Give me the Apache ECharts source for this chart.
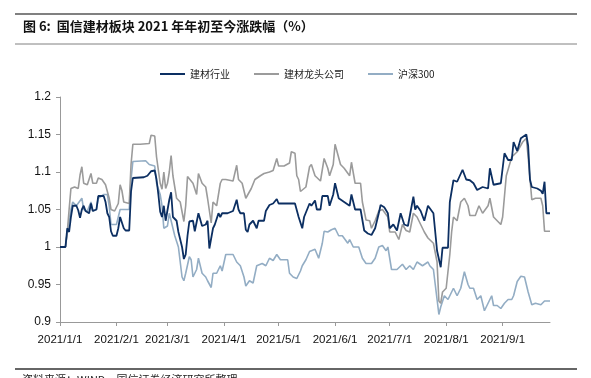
<!DOCTYPE html>
<html><head><meta charset="utf-8">
<script src="https://cdn.jsdelivr.net/npm/echarts@6/dist/echarts.min.js"></script>
<style>html,body{margin:0;padding:0;background:#fff;}#c{width:591px;height:378px;}</style>
</head><body><div id="c"></div>
<script>
const titleText = '图 6:  国信建材板块 2021 年年初至今涨跌幅（%）';
const sourceText = '资料来源：WIND，国信证券经济研究所整理';
const seriesNames = ['建材行业', '建材龙头公司', '沪深300'];
const xTickLabels = ['2021-01-01','2021-02-01','2021-03-01','2021-04-01','2021-05-01','2021-06-01','2021-07-01','2021-08-01','2021-09-01'];
const xRange = ['2021-01-01', '2021-09-27'];

const industryDates = ['01-01','01-04','01-05','01-06','01-07','01-08','01-10','01-11','01-12','01-13','01-14','01-15','01-17','01-18','01-19','01-21','01-22','01-25','01-26','01-27','01-28','01-29','01-30',
'02-01','02-02','02-03','02-04','02-05','02-06','02-08','02-09','02-10','02-16','02-18','02-20','02-22','02-23','02-24','02-25','02-26','02-27','02-28',
'03-01','03-02','03-03','03-04','03-06','03-07','03-09','03-10','03-11','03-12','03-13','03-15','03-16','03-18','03-19','03-20','03-22','03-23','03-24','03-25','03-26','03-27','03-29','03-30','03-31',
'04-03','04-06','04-08','04-09','04-10','04-12','04-13','04-14','04-15','04-17','04-19','04-20','04-23','04-24','04-26','04-28','04-30',
'05-01','05-04','05-10','05-12','05-14','05-15','05-18','05-19','05-21','05-22','05-24','05-25','05-28','05-29','05-31',
'06-01','06-03','06-06','06-09','06-10','06-12','06-15','06-17','06-19','06-21','06-23','06-25','06-26','06-28','06-30',
'07-01','07-03','07-05','07-07','07-09','07-11','07-12','07-14','07-15','07-16','07-18','07-20','07-22','07-23','07-25','07-27','07-29','07-30',
'08-02','08-03','08-05','08-07','08-10','08-12','08-14','08-16','08-18','08-19','08-21','08-24','08-25','08-27','08-31',
'09-02','09-04','09-06','09-07','09-09','09-11','09-14','09-15','09-16','09-17','09-20','09-22','09-23','09-24','09-25','09-27'];
const industryValues = [1.000,1.000,1.025,1.020,1.040,1.055,1.055,1.049,1.039,1.050,1.055,1.048,1.045,1.058,1.048,1.050,1.068,1.068,1.060,1.045,1.040,1.021,1.015,
1.015,1.025,1.040,1.040,1.025,1.022,1.022,1.074,1.092,1.093,1.095,1.101,1.102,1.090,1.070,1.047,1.040,1.055,1.035,
1.035,1.063,1.073,1.040,1.035,1.020,1.000,0.984,0.990,1.015,1.034,1.035,1.021,1.045,1.045,1.028,1.030,1.035,0.998,1.000,1.025,1.030,1.045,1.040,1.045,
1.045,1.048,1.063,1.050,1.045,1.045,1.023,1.020,1.030,1.035,1.025,1.035,1.035,1.048,1.056,1.058,1.064,
1.058,1.058,1.058,1.040,1.025,1.040,1.058,1.055,1.062,1.050,1.050,1.068,1.068,1.055,1.070,
1.085,1.065,1.060,1.055,1.070,1.050,1.050,1.022,1.018,1.016,1.025,1.045,1.056,1.053,1.045,
1.025,1.030,1.022,1.045,1.030,1.028,1.030,1.067,1.050,1.055,1.048,1.035,1.055,1.055,1.045,0.995,0.973,0.999,
0.999,1.060,1.089,1.087,1.103,1.090,1.089,1.085,1.076,1.075,1.080,1.078,1.105,1.083,1.085,
1.125,1.116,1.116,1.140,1.128,1.145,1.150,1.135,1.090,1.080,1.078,1.075,1.071,1.087,1.045,1.045];

const leaderDates = ['01-01','01-04','01-05','01-06','01-07','01-09','01-11','01-12','01-13','01-14','01-16','01-18','01-19','01-21','01-22','01-24','01-26','01-28','01-29','01-31',
'02-02','02-03','02-04','02-05','02-06','02-08','02-09','02-10','02-14','02-19','02-20','02-22','02-23','02-25','02-26','02-27','02-28',
'03-01','03-02','03-03','03-04','03-06','03-08','03-10','03-11','03-12','03-15','03-17','03-18','03-20','03-22','03-23','03-25','03-26','03-28','03-30','03-31',
'04-02','04-06','04-08','04-09','04-11','04-13','04-14','04-16','04-18','04-21','04-23','04-26','04-28','04-30',
'05-01','05-04','05-07','05-08','05-10','05-11','05-12','05-13','05-14','05-16','05-18','05-19','05-21','05-24','05-26','05-28','05-29','05-31',
'06-01','06-04','06-06','06-09','06-10','06-12','06-15','06-16','06-18','06-20','06-21','06-23','06-25','06-27','06-30',
'07-01','07-04','07-06','07-08','07-10','07-12','07-14','07-16','07-18','07-20','07-22','07-23','07-25','07-27','07-28','07-29','07-30',
'08-01','08-03','08-04','08-05','08-07','08-09','08-11','08-13','08-14','08-17','08-19','08-21','08-24','08-25','08-27','08-29','08-31',
'09-01','09-03','09-06','09-09','09-12','09-14','09-15','09-17','09-19','09-22','09-23','09-24','09-27'];
const leaderValues = [1.000,1.000,1.020,1.050,1.078,1.080,1.078,1.096,1.107,1.085,1.083,1.098,1.085,1.085,1.092,1.090,1.083,1.065,1.050,1.048,
1.058,1.083,1.075,1.060,1.058,1.058,1.110,1.137,1.137,1.138,1.149,1.148,1.120,1.085,1.077,1.100,1.078,
1.085,1.100,1.122,1.095,1.065,1.060,1.034,1.055,1.094,1.085,1.070,1.098,1.085,1.080,1.065,1.032,1.060,1.055,1.085,1.090,
1.090,1.088,1.109,1.090,1.085,1.065,1.065,1.078,1.090,1.095,1.098,1.100,1.102,1.118,
1.108,1.108,1.112,1.127,1.125,1.095,1.090,1.074,1.075,1.080,1.107,1.110,1.095,1.088,1.118,1.105,1.095,1.110,
1.137,1.110,1.105,1.095,1.113,1.085,1.085,1.060,1.036,1.035,1.025,1.035,1.048,1.050,1.040,
1.020,1.020,1.010,1.030,1.022,1.020,1.045,1.040,1.030,1.020,1.012,1.010,1.005,0.980,0.928,0.925,0.940,
0.945,0.990,1.020,1.040,1.035,1.060,1.065,1.055,1.042,1.042,1.055,1.045,1.055,1.065,1.040,1.035,1.030,
1.040,1.095,1.120,1.127,1.140,1.145,1.120,1.063,1.065,1.065,1.055,1.021,1.021];

const hs300Dates = ['01-01','01-04','01-05','01-07','01-08','01-10','01-13','01-14','01-16','01-18','01-19','01-21','01-22','01-25','01-27','01-28','01-29',
'02-01','02-03','02-08','02-09','02-10','02-17','02-19','02-22','02-23','02-25','02-26','02-27',
'03-01','03-02','03-03','03-05','03-07','03-09','03-10','03-11','03-13','03-14','03-15','03-17','03-18','03-20','03-22','03-23','03-25','03-26','03-28','03-30','03-31',
'04-02','04-06','04-08','04-10','04-12','04-13','04-15','04-17','04-19','04-22','04-24','04-26','04-28','04-30',
'05-02','05-06','05-07','05-09','05-11','05-13','05-14','05-16','05-18','05-19','05-21','05-23','05-25','05-26','05-28','05-30',
'06-01','06-03','06-05','06-08','06-09','06-11','06-14','06-16','06-18','06-21','06-23','06-25','06-27','06-29','06-30',
'07-02','07-05','07-08','07-10','07-12','07-14','07-16','07-19','07-22','07-23','07-25','07-26','07-28','07-29','07-31',
'08-02','08-03','08-05','08-07','08-09','08-11','08-13','08-14','08-16','08-18','08-20','08-22','08-24','08-26','08-27','08-29','08-31',
'09-02','09-04','09-06','09-07','09-09','09-11','09-13','09-15','09-17','09-19','09-22','09-24','09-27'];
const hs300Values = [1.000,1.000,1.020,1.050,1.060,1.055,1.065,1.050,1.048,1.060,1.048,1.050,1.065,1.070,1.070,1.055,1.030,
1.030,1.050,1.050,1.090,1.114,1.115,1.110,1.108,1.085,1.070,1.055,1.025,
1.028,1.045,1.035,1.015,1.000,0.960,0.955,0.965,0.987,0.983,0.960,0.970,0.985,0.965,0.960,0.955,0.946,0.965,0.965,0.975,0.968,
0.990,0.990,0.980,0.975,0.960,0.948,0.955,0.952,0.975,0.978,0.975,0.985,0.982,0.990,
0.983,0.983,0.965,0.960,0.958,0.968,0.975,0.983,0.994,0.993,0.997,0.985,1.005,1.021,1.020,1.023,
1.025,1.015,1.015,1.005,1.010,1.000,1.000,0.985,0.978,0.978,0.985,1.000,1.002,0.995,1.000,
0.970,0.970,0.977,0.970,0.975,0.970,0.980,0.975,0.980,0.975,0.970,0.950,0.910,0.920,0.935,
0.930,0.930,0.945,0.935,0.945,0.967,0.950,0.945,0.945,0.930,0.935,0.915,0.925,0.935,0.922,0.922,0.918,
0.925,0.930,0.930,0.935,0.954,0.961,0.960,0.940,0.923,0.925,0.923,0.928,0.928];

const colors = ['#0c2f62', '#9b9b9b', '#93adc4'];
const ts = s => Date.UTC(+s.slice(0, 4), +s.slice(5, 7) - 1, +s.slice(8, 10));
const toPairs = (d, v) => d.map((s, i) => [ts('2021-' + s), v[i]]);
const seriesData = [toPairs(industryDates, industryValues), toPairs(leaderDates, leaderValues), toPairs(hs300Dates, hs300Values)];
const tickTimes = xTickLabels.map(ts);

const chart = echarts.init(document.getElementById('c'), null, {renderer: 'canvas'});
chart.setOption({
  animation: false,
  backgroundColor: '#fff',
  color: colors,
  textStyle: {fontFamily: 'Liberation Sans, Arial, sans-serif'},
  grid: {left: 60, right: 41, top: 97, bottom: 56, containLabel: false},
  legend: {
    top: 64, left: 155,
    icon: 'rect',
    itemWidth: 25, itemHeight: 2, itemGap: 24,
    textStyle: {fontFamily: 'Noto Sans CJK SC', fontSize: 10, color: '#222', padding: [0, 0, 0, 0]},
    data: seriesNames
  },
  xAxis: {
    type: 'value',
    min: ts(xRange[0]), max: ts(xRange[1]),
    splitLine: {show: false},
    axisLine: {lineStyle: {color: '#999', width: 1}},
    axisTick: {show: true, length: 4, lineStyle: {color: '#999'}, customValues: tickTimes},
    axisLabel: {
      customValues: tickTimes, color: '#111', fontSize: 11.5, margin: 12,
      hideOverlap: false, showMinLabel: true, showMaxLabel: true,
      formatter: v => { const d = new Date(v); return d.getUTCFullYear() + '/' + (d.getUTCMonth() + 1) + '/' + d.getUTCDate(); }
    }
  },
  yAxis: {
    type: 'value', min: 0.9, max: 1.2, interval: 0.05,
    splitLine: {show: false},
    axisLine: {show: true, lineStyle: {color: '#999', width: 1}},
    axisTick: {show: true, length: 4, lineStyle: {color: '#999'}},
    axisLabel: {color: '#111', fontSize: 12, margin: 9, formatter: v => String(+v.toFixed(2))}
  },
  graphic: [
    {type: 'line', shape: {x1: 15, y1: 14, x2: 577, y2: 14}, style: {stroke: '#808080', lineWidth: 2}},
    {type: 'text', left: 23, top: 20, style: {text: titleText, font: 'bold 13px "Noto Sans CJK SC"', fill: '#111'}},
    {type: 'line', shape: {x1: 15, y1: 44, x2: 577, y2: 44}, style: {stroke: '#808080', lineWidth: 1}},
    {type: 'line', shape: {x1: 15, y1: 369, x2: 577, y2: 369}, style: {stroke: '#333', lineWidth: 1.5}},
    {type: 'text', left: 22, top: 374, style: {text: sourceText, font: '11px "Noto Sans CJK SC"', fill: '#222'}}
  ],
  series: seriesNames.map((n, i) => ({
    name: n, type: 'line', data: seriesData[i], symbol: 'none', showSymbol: false,
    z: 3 - i,
    lineStyle: {width: i === 0 ? 1.8 : 1.6, color: colors[i]}
  }))
});
</script></body></html>
